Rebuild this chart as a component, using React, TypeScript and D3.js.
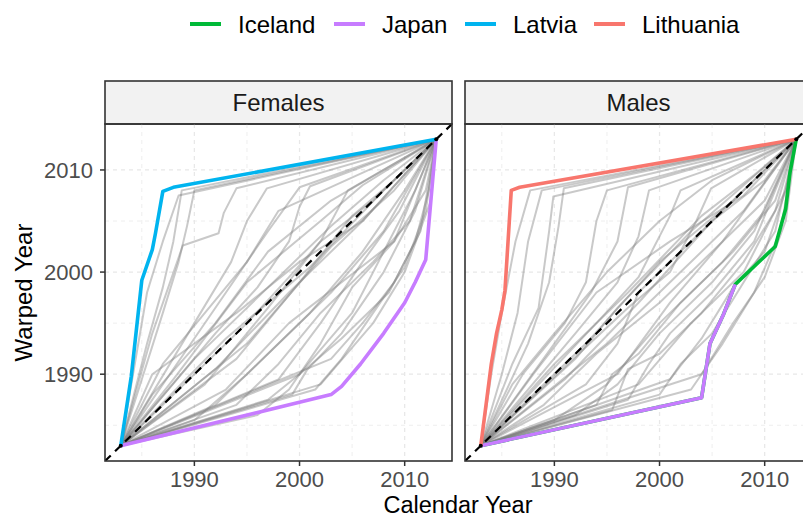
import React from "react";
import * as d3 from "d3";

type Pt = [number, number];

// legend entries and colours
const countries = ["Iceland", "Japan", "Latvia", "Lithuania"];
const countryColors = ["#00BA38", "#C77CFF", "#00B4EF", "#F8766D"];
const legendLineX = [190, 334, 465, 594];

const panels = ["Females", "Males"];
const xTicks = [1990, 2000, 2010];
const yTicks = [1990, 2000, 2010];
const minorTicks = [1985, 1995, 2005];

// highlighted warping functions (calendar year, warped year)
const latviaF: Pt[] = [[1983, 1983], [1984, 1989.8], [1985, 1999.2], [1986, 2002.2], [1986.3, 2003.8], [1987, 2007.9], [1988, 2008.3], [2013, 2013]];
const japanF: Pt[] = [[1983, 1983], [2003, 1988], [2004, 1988.8], [2005.8, 1991], [2008, 1994], [2010, 1997], [2011, 1999], [2012, 2001.2], [2013, 2013]];
const lithuaniaM: Pt[] = [[1983, 1983], [1984, 1991], [1984.5, 1994], [1985, 1996.3], [1985.3, 1998.2], [1985.9, 2008], [1986.7, 2008.3], [2013, 2013]];
const japanM: Pt[] = [[1983, 1983], [2004, 1987.7], [2004.8, 1993], [2006.1, 1995.9], [2007.2, 1998.8]];
const icelandM: Pt[] = [[1983, 1983], [2004, 1987.7], [2004.8, 1993], [2006.1, 1995.9], [2007.2, 1998.8], [2011, 2002.5], [2012, 2006.2], [2012.4, 2009.7], [2013, 2013]];

// other countries (grey)
const femalesGrey: Pt[][] = [
  [[1983, 1983], [1984.5, 1992], [1985.5, 1998], [1987, 2003], [1988.5, 2007.5], [2013, 2013]],
  [[1983, 1983], [1985.5, 1993], [1987, 1998.5], [1988, 2003], [1988.8, 2008], [2013, 2013]],
  [[1983, 1983], [1987, 1996], [1988.5, 2001], [1989.3, 2004.5], [1990, 2008], [2013, 2013]],
  [[1983, 1983], [1986, 1994], [1988.9, 2002.6], [1992.3, 2003.8], [1992.8, 2005.8], [1994, 2008.2], [2013, 2013]],
  [[1983, 1983], [1990, 1995], [1993.5, 2001], [1995, 2005], [1996.9, 2008.2], [2013, 2013]],
  [[1983, 1983], [1992, 1994], [1996, 1998.5], [1999, 2003], [2000, 2006.4], [2001, 2008.4], [2013, 2013]],
  [[1983, 1983], [1995, 1995], [1999, 1999.5], [2002, 2003], [2004.6, 2008], [2013, 2013]],
  [[1983, 1983], [1989, 1992], [1993, 1998], [1997, 2004], [2000, 2008.3], [2013, 2013]],
  [[1983, 1983], [1987, 1991], [1991, 1996], [1995, 2001], [1998, 2006], [2013, 2013]],
  [[1983, 1983], [1990, 1991.5], [1996, 1997.5], [2003, 2004.5], [2008, 2009], [2013, 2013]],
  [[1983, 1983], [1993, 1993.5], [2001, 2000.5], [2008, 2008], [2013, 2013]],
  [[1983, 1983], [1988, 1989.5], [1995, 1999], [2002, 2005], [2006, 2008.5], [2013, 2013]],
  [[1983, 1983], [1992, 1990.5], [1999, 1998], [2006, 2005], [2013, 2013]],
  [[1983, 1983], [1994, 1991.5], [2000, 1999], [2005, 2005.5], [2009, 2009], [2013, 2013]],
  [[1983, 1983], [1986, 1988], [1992, 1995], [1997, 2002], [2003, 2007], [2013, 2013]],
  [[1983, 1983], [1995, 1993], [2003, 2002.5], [2009, 2008], [2013, 2013]],
  [[1983, 1983], [1991, 1989], [1997, 1996.5], [2002, 2003], [2007, 2007], [2013, 2013]],
  [[1983, 1983], [1999.3, 1988], [2000.7, 1990.4], [2004, 1994], [2008, 2000], [2011, 2006], [2013, 2013]],
  [[1983, 1983], [1997, 1987.5], [2000, 1990], [2004, 1993.5], [2008.5, 1998], [2011.5, 2004], [2013, 2013]],
  [[1983, 1983], [2001.5, 1988.5], [2004, 1991.5], [2007, 1996], [2010, 2000.5], [2012, 2006], [2013, 2013]],
  [[1983, 1983], [1994, 1987], [1998, 1991], [2002, 1996], [2007, 2001], [2010.5, 2005], [2013, 2013]],
  [[1983, 1983], [1990, 1985.5], [1995, 1990], [2001, 1996], [2006, 2002], [2010, 2008], [2013, 2013]],
  [[1983, 1983], [2000, 1990], [2005, 1996], [2008.5, 2003], [2011, 2008], [2013, 2013]],
  [[1983, 1983], [2003, 1991.5], [2006, 1995], [2009, 1999], [2011, 2003], [2012.3, 2008], [2013, 2013]],
  [[1983, 1983], [1996, 1986], [1999, 1988.5], [2002, 1993], [2005, 1998.5], [2009, 2003], [2013, 2013]],
  [[1983, 1983], [1992, 1987], [1997, 1992], [2003, 1998], [2008, 2004], [2013, 2013]],
  [[1983, 1983], [2002, 1989], [2007, 1995], [2010, 2000], [2012.5, 2007], [2013, 2013]],
  [[1983, 1983], [1998, 1989.5], [2002, 1995], [2006, 2001], [2009.5, 2006], [2013, 2013]],
  [[1983, 1983], [1993, 1988.5], [1999, 1995], [2004, 1999], [2009, 2003], [2012, 2008], [2013, 2013]],
  [[1983, 1983], [1986, 1990], [1994, 1996], [2000, 2001], [2006, 2005], [2013, 2013]],
];

const malesGrey: Pt[][] = [
  [[1983, 1983], [1984, 1990], [1985, 1996], [1986.3, 2003], [1987.7, 2008], [2013, 2013]],
  [[1983, 1983], [1985, 1990], [1986.5, 1996], [1987.5, 2003], [1988.8, 2008], [2013, 2013]],
  [[1983, 1983], [1986, 1991], [1988.5, 1996.5], [1989.5, 2004], [1989.9, 2007.4], [2013, 2013]],
  [[1983, 1983], [1987.5, 1993], [1989.5, 1999], [1990.4, 2004.5], [1990.9, 2008.2], [2013, 2013]],
  [[1983, 1983], [1987, 1990], [1991, 1995], [1993, 1999], [1994, 2005], [1995, 2008], [2013, 2013]],
  [[1983, 1983], [1990, 1993], [1993.5, 1998], [1996, 2003], [1997, 2008.3], [2013, 2013]],
  [[1983, 1983], [1992, 1994], [1996, 1999], [1998, 2003.5], [1999, 2008], [2013, 2013]],
  [[1983, 1983], [1994, 1995], [1998, 1999.5], [2001, 2005.5], [2002, 2008], [2013, 2013]],
  [[1983, 1983], [1997, 1996.5], [2001, 2000], [2003.5, 2005], [2004.9, 2008.2], [2013, 2013]],
  [[1983, 1983], [1986, 1989], [1990, 1994], [1995, 2000], [2000, 2005], [2005, 2009], [2013, 2013]],
  [[1983, 1983], [1990, 1991], [1997, 1998], [2004, 2005.5], [2009, 2009.5], [2013, 2013]],
  [[1983, 1983], [1993, 1993], [2000, 2001], [2007, 2007], [2013, 2013]],
  [[1983, 1983], [1991, 1989.5], [1998, 1997], [2005, 2005], [2010, 2009], [2013, 2013]],
  [[1983, 1983], [1988, 1990], [1994, 1998], [2001, 2003], [2008, 2007.5], [2013, 2013]],
  [[1983, 1983], [1995, 1993], [2002, 2000], [2008, 2006], [2013, 2013]],
  [[1983, 1983], [1992, 1991.5], [1996, 1996.5], [2003, 2004], [2013, 2013]],
  [[1983, 1983], [1994, 1987], [1995.5, 1990], [1998, 1992], [2002, 1997], [2007, 2002], [2011, 2007], [2013, 2013]],
  [[1983, 1983], [1997, 1987.5], [1999, 1991], [2001, 1994], [2005, 1998], [2009, 2003], [2013, 2013]],
  [[1983, 1983], [1995.5, 1986.5], [1997, 1990.5], [2000, 1992], [2004, 1996], [2008, 2001], [2011, 2006], [2013, 2013]],
  [[1983, 1983], [2000, 1988], [2002, 1991], [2005, 1994], [2008, 1999], [2011, 2004], [2013, 2013]],
  [[1983, 1983], [1992, 1986], [1996, 1989], [2000, 1994], [2005, 1999], [2009, 2004], [2013, 2013]],
  [[1983, 1983], [2003, 1988.5], [2006, 1993], [2009, 1998], [2011.5, 2004], [2013, 2013]],
  [[1983, 1983], [1990, 1985.5], [1995, 1989], [2000, 1995], [2006, 2001], [2010, 2006], [2013, 2013]],
  [[1983, 1983], [2001, 1989.5], [2004, 1993.5], [2007, 1998.5], [2010, 2002], [2012, 2008], [2013, 2013]],
  [[1983, 1983], [1998, 1989], [2003, 1995], [2008, 2000], [2012, 2008], [2013, 2013]],
  [[1983, 1983], [1989, 1987], [1994, 1992], [2000, 1997], [2006, 2003], [2013, 2013]],
  [[1983, 1983], [2004, 1990], [2007, 1995], [2010, 1999.5], [2012, 2005], [2013, 2013]],
  [[1983, 1983], [1996, 1990], [2001, 1997], [2006, 2003], [2010, 2007], [2013, 2013]],
  [[1983, 1983], [1993, 1989], [1996, 1993], [1998, 1998], [2003, 2003], [2013, 2013]],
];

const greyByPanel = [femalesGrey, malesGrey];
// drawn in order: [data, colour index]
const highlightByPanel: [Pt[], number][][] = [
  [[japanF, 1], [latviaF, 2]],
  [[icelandM, 0], [japanM, 1], [lithuaniaM, 3]],
];

const W = 803;
const H = 518;
const panelX = [105, 465];
const panelW = 347;
const panelTop = 124;
const panelBottom = 461;
const stripTop = 81;
const domain: [number, number] = [1981.5, 2014.5];
const font = "'Liberation Sans', Arial, Helvetica, sans-serif";

const App = () => {
  const y = d3.scaleLinear().domain(domain).range([panelBottom, panelTop]);

  return (
    <svg width={W} height={H} style={{ position: "absolute", left: 0, top: 0, background: "#fff" }} fontFamily={font}>
      <defs>
        {panels.map((p, i) => (
          <clipPath id={"clip" + i} key={p}>
            <rect x={panelX[i]} y={panelTop} width={panelW} height={panelBottom - panelTop} />
          </clipPath>
        ))}
      </defs>

      {/* legend */}
      {countries.map((c, i) => (
        <g key={c}>
          <line x1={legendLineX[i]} x2={legendLineX[i] + 31} y1={24} y2={24} stroke={countryColors[i]} strokeWidth={4} />
          <text x={legendLineX[i] + 48} y={33} fontSize={24} fill="#000">{c}</text>
        </g>
      ))}

      {panels.map((p, i) => {
        const x = d3.scaleLinear().domain(domain).range([panelX[i], panelX[i] + panelW]);
        const line = d3.line<Pt>().x((d) => x(d[0])).y((d) => y(d[1]));
        return (
          <g key={p}>
            {/* strip */}
            <rect x={panelX[i]} y={stripTop} width={panelW} height={panelTop - stripTop} fill="#F2F2F2" stroke="#333" strokeWidth={1.6} />
            <text x={panelX[i] + panelW / 2} y={111} fontSize={24} textAnchor="middle" fill="#1A1A1A">{p}</text>

            <g clipPath={`url(#clip${i})`}>
              {/* grid */}
              {minorTicks.map((t) => (
                <g key={"mn" + t}>
                  <line x1={x(t)} x2={x(t)} y1={panelTop} y2={panelBottom} stroke="#EEEEEE" strokeWidth={1} strokeDasharray="4,4" />
                  <line x1={panelX[i]} x2={panelX[i] + panelW} y1={y(t)} y2={y(t)} stroke="#EEEEEE" strokeWidth={1} strokeDasharray="4,4" />
                </g>
              ))}
              {xTicks.map((t) => (
                <g key={"mj" + t}>
                  <line x1={x(t)} x2={x(t)} y1={panelTop} y2={panelBottom} stroke="#E8E8E8" strokeWidth={1.3} strokeDasharray="4,4" />
                  <line x1={panelX[i]} x2={panelX[i] + panelW} y1={y(t)} y2={y(t)} stroke="#E8E8E8" strokeWidth={1.3} strokeDasharray="4,4" />
                </g>
              ))}

              {greyByPanel[i].map((d, k) => (
                <path key={k} d={line(d) || ""} fill="none" stroke="#7F7F7F" strokeOpacity={0.42} strokeWidth={2} strokeLinejoin="round" />
              ))}

              {highlightByPanel[i].map(([d, c], k) => (
                <path key={"h" + k} d={line(d) || ""} fill="none" stroke={countryColors[c]} strokeWidth={3.6} strokeLinejoin="round" />
              ))}

              {/* identity line */}
              <line x1={x(domain[0])} y1={y(domain[0])} x2={x(domain[1])} y2={y(domain[1])} stroke="#000" strokeWidth={2.2} strokeDasharray="8,6" />
              <circle cx={x(1983)} cy={y(1983)} r={2} fill="#000" />
              <circle cx={x(2013)} cy={y(2013)} r={2} fill="#000" />
            </g>

            <rect x={panelX[i]} y={panelTop} width={panelW} height={panelBottom - panelTop} fill="none" stroke="#333" strokeWidth={1.6} />

            {/* x axis */}
            {xTicks.map((t) => (
              <g key={"xt" + t}>
                <line x1={x(t)} x2={x(t)} y1={panelBottom} y2={panelBottom + 5} stroke="#333" strokeWidth={1.5} />
                <text x={x(t)} y={486.5} fontSize={22} textAnchor="middle" fill="#4D4D4D">{t}</text>
              </g>
            ))}
          </g>
        );
      })}

      {/* y axis */}
      {yTicks.map((t) => (
        <g key={"yt" + t}>
          <line x1={panelX[0] - 5} x2={panelX[0]} y1={y(t)} y2={y(t)} stroke="#333" strokeWidth={1.5} />
          <text x={93} y={y(t)} dy="0.36em" fontSize={22} textAnchor="end" fill="#4D4D4D">{t}</text>
        </g>
      ))}

      <text x={458} y={512.5} fontSize={23.5} textAnchor="middle" fill="#000">Calendar Year</text>
      <text transform={`translate(32,${(panelTop + panelBottom) / 2}) rotate(-90)`} fontSize={24} textAnchor="middle" fill="#000">Warped Year</text>
    </svg>
  );
};

export default App;
